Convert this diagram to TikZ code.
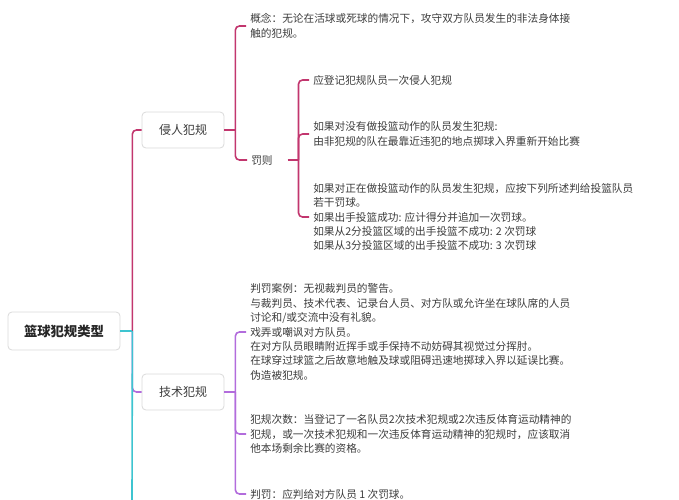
\documentclass[tikz,border=0pt]{standalone}
\usepackage{fontspec}
\setmainfont{Noto Sans CJK SC}
\usepackage{xcolor}
\usetikzlibrary{positioning}

\definecolor{qinred}{RGB}{194,54,110}
\definecolor{jipurple}{RGB}{178,108,220}
\definecolor{rootteal}{RGB}{62,196,208}
\definecolor{boxgray}{RGB}{218,218,218}
\definecolor{txtgray}{RGB}{60,60,60}

\begin{document}
\begin{tikzpicture}[x=0.75pt, y=-0.75pt,
    topic/.style={draw=boxgray, fill=white, rounded corners=3pt, line width=0.6pt,
      minimum width=61.5pt, minimum height=27pt, text=txtgray,
      font=\fontsize{9pt}{11pt}\selectfont},
    leaf/.style={anchor=west, align=left, inner xsep=3pt, inner ysep=0pt, text=txtgray,
      font=\fontsize{8pt}{10.8pt}\selectfont},
    qline/.style={draw=qinred, line width=1.2pt},
    jline/.style={draw=jipurple, line width=1.2pt},
    tline/.style={draw=rootteal, line width=1.2pt}]
    \useasboundingbox (0,0) rectangle (679,500);

    % Nodes
    \node [topic, minimum width=84pt, minimum height=28.5pt,
      font=\fontsize{10pt}{12pt}\selectfont\bfseries, text=black!85] (root) at (64,331) {篮球犯规类型};
    \node [topic] (qr) at (183,130) {侵人犯规};
    \node [topic] (js) at (183,392) {技术犯规};

    \node [leaf] (gn) at (246,26) {概念：无论在活球或死球的情况下，攻守双方队员发生的非法身体接\\触的犯规。};
    \node [leaf, text width=24pt] (fz) at (247,160) {罚则};
    \node [leaf] (f1) at (309,80) {应登记犯规队员一次侵人犯规};
    \node [leaf] (f2) at (309,134) {如果对没有做投篮动作的队员发生犯规:\\由非犯规的队在最靠近违犯的地点掷球入界重新开始比赛};
    \node [leaf] (f3) at (309,217) {如果对正在做投篮动作的队员发生犯规，应按下列所述判给投篮队员\\若干罚球。\\如果出手投篮成功: 应计得分并追加一次罚球。\\如果从2分投篮区域的出手投篮不成功: 2 次罚球\\如果从3分投篮区域的出手投篮不成功: 3 次罚球};

    \node [leaf] (t1) at (246,332) {判罚案例：无视裁判员的警告。\\与裁判员、技术代表、记录台人员、对方队或允许坐在球队席的人员\\讨论和/或交流中没有礼貌。\\戏弄或嘲讽对方队员。\\在对方队员眼睛附近挥手或手保持不动妨碍其视觉过分挥肘。\\在球穿过球篮之后故意地触及球或阻碍迅速地掷球入界以延误比赛。\\伪造被犯规。};
    \node [leaf] (t2) at (246,434) {犯规次数：当登记了一名队员2次技术犯规或2次违反体育运动精神的\\犯规，或一次技术犯规和一次违反体育运动精神的犯规时，应该取消\\他本场剩余比赛的资格。};
    \node [leaf] (t3) at (246,494) {判罚：应判给对方队员 1 次罚球。};

    % Spines
    \coordinate [right=9pt of root] (rs);
    \coordinate [right=8.25pt of qr] (qrs);
    \coordinate [right=8.25pt of fz] (fzs);
    \coordinate [right=8.25pt of js] (jss);
    \coordinate (next) at (132,500);

    % Connections
    \draw [qline, rounded corners=3pt] (rs) |- (qr.west);
    \draw [jline, rounded corners=3pt] (rs) |- (js.west);
    \draw [tline] (rs) -- (next);
    \draw [tline] (root.east) -- (rs);

    \draw [qline] (qr.east) -- (qrs);
    \draw [qline, rounded corners=3pt] (qrs) |- (gn.west);
    \draw [qline, rounded corners=3pt] (qrs) |- (fz.west);

    \draw [qline] (fz.east) -- (fzs);
    \draw [qline, rounded corners=3pt] (fzs) |- (f1.west);
    \draw [qline, rounded corners=3pt] (fzs) |- (f2.west);
    \draw [qline, rounded corners=3pt] (fzs) |- (f3.west);

    \draw [jline] (js.east) -- (jss);
    \draw [jline, rounded corners=3pt] (jss) |- (t1.west);
    \draw [jline, rounded corners=3pt] (jss) |- (t2.west);
    \draw [jline, rounded corners=3pt] (jss) |- (t3.west);
\end{tikzpicture}
\end{document}
